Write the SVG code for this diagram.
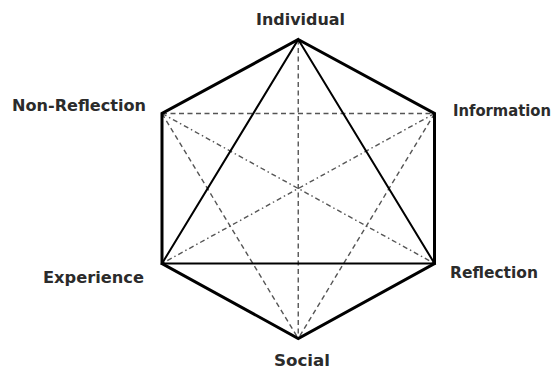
<svg xmlns="http://www.w3.org/2000/svg" width="558" height="372" viewBox="0 0 558 372">
<style>
.lbl{font-family:"DejaVu Sans","Liberation Sans",sans-serif;font-weight:bold;font-size:16px;fill:#2b2b2b}
.hex{fill:none;stroke:#000;stroke-width:3;stroke-linejoin:miter}
.tri{fill:none;stroke:#000;stroke-width:2}
.dash{fill:none;stroke:#555;stroke-width:1.4;stroke-dasharray:5 3.5}
.dashdot{fill:none;stroke:#555;stroke-width:1.4;stroke-dasharray:5 3 1.5 3}
</style>
<rect width="558" height="372" fill="#fff"/>
<g id="connectors">
<line class="dash" x1="162" y1="113.5" x2="434.5" y2="113.5"/>
<line class="dash" x1="298.25" y1="39.5" x2="298.25" y2="338.5"/>
<line class="dash" x1="162" y1="113.5" x2="298.25" y2="338.5"/>
<line class="dash" x1="434.5" y1="113.5" x2="298.25" y2="338.5"/>
<line class="dashdot" x1="162" y1="113.5" x2="434.5" y2="263.5"/>
<line class="dashdot" x1="434.5" y1="113.5" x2="162" y2="263.5"/>
<polygon class="tri" points="298.25,39.5 434.5,263.5 162,263.5"/>
<polygon class="hex" points="298.25,39.5 434.5,113.5 434.5,263.5 298.25,338.5 162,263.5 162,113.5"/>
</g>
<g id="individual"><text class="lbl" x="256" y="25" textLength="89" lengthAdjust="spacingAndGlyphs">Individual</text></g>
<g id="information"><text class="lbl" x="453" y="116" textLength="98" lengthAdjust="spacingAndGlyphs">Information</text></g>
<g id="reflection"><text class="lbl" x="450" y="278" textLength="88" lengthAdjust="spacingAndGlyphs">Reflection</text></g>
<g id="social"><text class="lbl" x="274" y="366" textLength="56" lengthAdjust="spacingAndGlyphs">Social</text></g>
<g id="experience"><text class="lbl" x="43" y="283" textLength="101" lengthAdjust="spacingAndGlyphs">Experience</text></g>
<g id="non-reflection"><text class="lbl" x="12" y="111" textLength="134" lengthAdjust="spacingAndGlyphs">Non-Reflection</text></g>
</svg>
